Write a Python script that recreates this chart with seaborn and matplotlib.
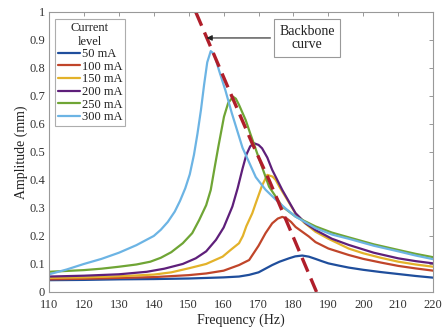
"""
Frequency response curves at six current levels, with the backbone curve.
Values read off the reference figure.
"""

import matplotlib
matplotlib.use("Agg")
import matplotlib.pyplot as plt
import seaborn as sns

# ─── Data ─────────────────────────────────────────────────────────────────
labels = ["50 mA", "100 mA", "150 mA", "200 mA", "250 mA", "300 mA"]

f_50 = [110, 120, 130, 140, 150, 155, 160, 164.4, 167.3, 170, 173.9, 176, 178.7, 180.5,
        182.5, 184.4, 186.3, 188.1, 190, 193, 195.8, 200, 205, 210, 215, 220]
a_50 = [0.042, 0.043, 0.045, 0.046, 0.048, 0.05, 0.052, 0.055, 0.061, 0.07, 0.096, 0.108, 0.12, 0.127,
        0.13, 0.126, 0.118, 0.11, 0.102, 0.094, 0.087, 0.079, 0.071, 0.064, 0.057, 0.051]

f_100 = [110, 120, 130, 140, 150, 155, 160, 164.4, 167.3, 170, 172, 173.9, 175.5, 176.8, 178,
         179.3, 180.6, 182.5, 184.4, 186.3, 190, 195.8, 200, 205, 210, 215, 220]
a_100 = [0.045, 0.047, 0.05, 0.053, 0.06, 0.066, 0.076, 0.096, 0.114, 0.165, 0.21, 0.245, 0.262, 0.268, 0.263,
         0.25, 0.232, 0.215, 0.198, 0.178, 0.155, 0.132, 0.118, 0.105, 0.093, 0.084, 0.076]

f_150 = [110, 120, 130, 140, 145, 150.2, 155, 159.7, 162, 164.4, 165.5, 166.5, 168.2, 169.2, 171,
         172.5, 174, 174.9, 176, 177.7, 180.6, 183, 186.3, 190, 195.8, 200, 205, 210, 215, 220]
a_150 = [0.05, 0.052, 0.056, 0.062, 0.07, 0.085, 0.1, 0.126, 0.15, 0.174, 0.2, 0.235, 0.281, 0.317, 0.38,
         0.418, 0.412, 0.4, 0.375, 0.34, 0.28, 0.248, 0.215, 0.19, 0.155, 0.138, 0.122, 0.108, 0.098, 0.09]

f_200 = [110, 120, 130, 138, 143, 148.3, 152, 155, 157.8, 160, 162.5, 164, 165.4, 166.5, 167.6,
         168.7, 170, 171, 172.5, 173.9, 176.8, 180.6, 183.5, 186.3, 191, 195.8, 203, 210, 215, 220]
a_200 = [0.055, 0.058, 0.063, 0.072, 0.083, 0.1, 0.12, 0.145, 0.186, 0.23, 0.305, 0.37, 0.44, 0.49, 0.52,
         0.531, 0.525, 0.513, 0.48, 0.436, 0.364, 0.281, 0.245, 0.221, 0.19, 0.168, 0.14, 0.12, 0.11, 0.102]

f_250 = [110, 115, 120, 125, 130, 135, 139, 142, 145, 148.3, 151, 153, 155, 156.3, 157.5, 158.5,
         160.1, 161.3, 162.7, 163.5, 164.4, 166.3, 167.5, 169.6, 173, 176.8, 180.6, 186.3, 191, 195.8,
         203, 210, 215, 220]
a_250 = [0.072, 0.075, 0.078, 0.083, 0.09, 0.098, 0.108, 0.122, 0.142, 0.174, 0.21, 0.257, 0.31, 0.364, 0.45, 0.52,
         0.626, 0.675, 0.697, 0.69, 0.668, 0.614, 0.57, 0.495, 0.376, 0.305, 0.269, 0.234, 0.212, 0.195,
         0.17, 0.15, 0.136, 0.124]

f_300 = [110, 115, 120, 125, 130, 135, 140, 142, 144, 146, 147.5, 149, 150.3, 151.5, 152.5, 153.5,
         154.4, 155.3, 156.3, 157.2, 158, 158.7, 160.5, 162.3, 165.4, 169.2, 172, 174.9, 178, 180.6,
         186.3, 191, 195.8, 203, 210, 215, 220]
a_300 = [0.063, 0.08, 0.1, 0.118, 0.14, 0.167, 0.2, 0.222, 0.25, 0.287, 0.325, 0.37, 0.42, 0.49, 0.565, 0.65,
         0.74, 0.82, 0.86, 0.85, 0.82, 0.79, 0.72, 0.64, 0.515, 0.41, 0.365, 0.33, 0.295, 0.269,
         0.228, 0.205, 0.19, 0.165, 0.145, 0.13, 0.117]

backbone_f = [152.0, 161.6, 168.2, 173.0, 186.6]
backbone_a = [1.0, 0.72, 0.53, 0.40, 0.0]

x_ticks = [110, 120, 130, 140, 150, 160, 170, 180, 190, 200, 210, 220]
y_ticks = [0, 0.1, 0.2, 0.3, 0.4, 0.5, 0.6, 0.7, 0.8, 0.9, 1]
y_ticklabels = ["0", "0.1", "0.2", "0.3", "0.4", "0.5", "0.6", "0.7", "0.8", "0.9", "1"]

# MATLAB-like line colours
colors = ["#1F4E9C", "#C0452A", "#E3B22A", "#5E1F7A", "#6FA535", "#6CB4E4"]
series = [(f_50, a_50), (f_100, a_100), (f_150, a_150),
          (f_200, a_200), (f_250, a_250), (f_300, a_300)]

# ─── Plot ─────────────────────────────────────────────────────────────────
sns.set_style("white")
plt.rcParams["font.family"] = ["Liberation Serif", "DejaVu Serif"]

fig = plt.figure(figsize=(4.42, 3.31), dpi=100)
ax = fig.add_axes([0.111, 0.118, 0.869, 0.846])

for (f, a), lab, col in zip(series, labels, colors):
    sns.lineplot(x=f, y=a, ax=ax, color=col, linewidth=1.6, label=lab,
                 estimator=None, sort=False)

sns.lineplot(x=backbone_f, y=backbone_a, ax=ax, color="#B01E2A", linewidth=2.4,
             estimator=None, sort=False, legend=False)
ax.lines[-1].set_dashes([4.5, 2.2])

# annotation box + arrow
ax.annotate("", xy=(154.3, 0.907), xytext=(174.2, 0.907),
            arrowprops=dict(arrowstyle="-|>", color="#222222", lw=0.8,
                            mutation_scale=8))
ax.text(183.9, 0.907, "Backbone\ncurve", ha="center", va="center", fontsize=10,
        color="#222222", linespacing=1.05,
        bbox=dict(boxstyle="square,pad=0.4", fc="white", ec="#999999", lw=0.8))

ax.set_xlim(110, 220)
ax.set_ylim(0, 1)
ax.set_xticks(x_ticks)
ax.set_yticks(y_ticks)
ax.set_yticklabels(y_ticklabels)
ax.set_xlabel("Frequency (Hz)", fontsize=10, color="#222222", labelpad=2)
ax.set_ylabel("Amplitude (mm)", fontsize=10, color="#222222", labelpad=1)
ax.tick_params(direction="in", length=3, width=0.6, color="#888888",
               labelsize=9, labelcolor="#333333", top=True, right=True)
ax.tick_params(axis="x", pad=5)
ax.tick_params(axis="y", pad=3)
for sp in ax.spines.values():
    sp.set_color("#999999")
    sp.set_linewidth(0.8)

leg = ax.legend(title="Current\nlevel", loc="upper left", bbox_to_anchor=(0.008, 0.985),
                fontsize=9, title_fontsize=9, frameon=True, fancybox=False,
                edgecolor="#999999", handlelength=1.8, handletextpad=0.1,
                labelspacing=0.05, borderpad=0.25, borderaxespad=0.2)
leg.get_frame().set_linewidth(0.8)
leg.get_title().set_multialignment("center")
leg.get_title().set_color("#222222")
for t in leg.get_texts():
    t.set_color("#222222")

fig.savefig("out.png", dpi=100)
